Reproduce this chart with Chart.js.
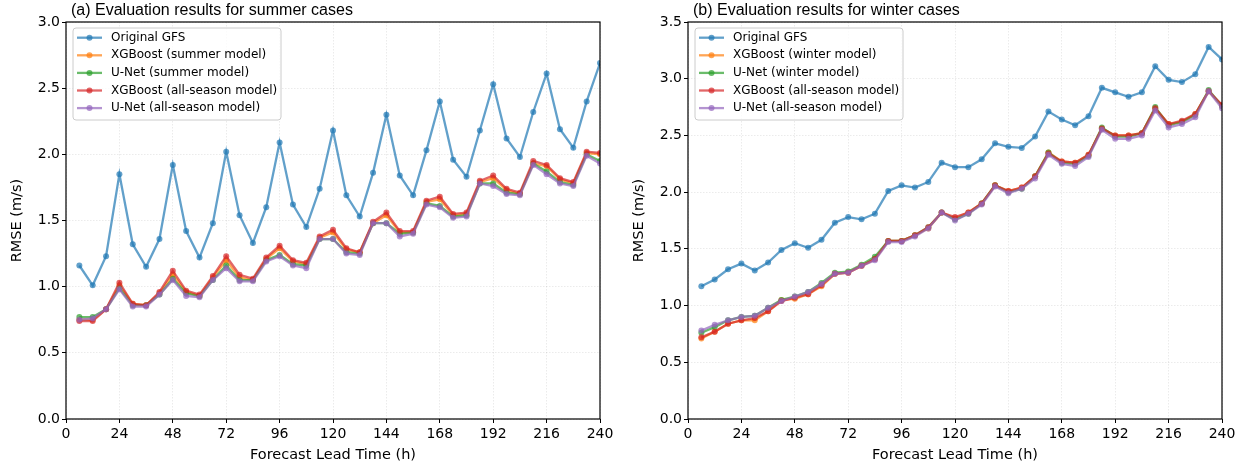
<!DOCTYPE html>
<html>
<head>
<meta charset="utf-8">
<script src="https://cdn.jsdelivr.net/npm/chart.js@4.4.0/dist/chart.umd.min.js"></script>
<style>
body { margin: 0; background: #fff; width: 1244px; height: 467px; overflow: hidden; position: relative; }
canvas { position: absolute; top: 0; }
#summer { left: 0; }
#winter { left: 622px; }
</style>
</head>
<body>
<canvas id="summer" width="622" height="467"></canvas>
<canvas id="winter" width="622" height="467"></canvas>
<script>
const leadHours = [6, 12, 18, 24, 30, 36, 42, 48, 54, 60, 66, 72, 78, 84, 90, 96, 102, 108, 114, 120,
  126, 132, 138, 144, 150, 156, 162, 168, 174, 180, 186, 192, 198, 204, 210, 216, 222, 228, 234, 240];
const xTicks = [0, 24, 48, 72, 96, 120, 144, 168, 192, 216, 240];

// summer cases
const summerGFS = [1.16, 1.01, 1.23, 1.85, 1.32, 1.15, 1.36, 1.92, 1.42, 1.22, 1.48, 2.02, 1.54, 1.33, 1.60, 2.09, 1.62, 1.45, 1.74, 2.18,
  1.69, 1.53, 1.86, 2.30, 1.84, 1.69, 2.03, 2.40, 1.96, 1.83, 2.18, 2.53, 2.12, 1.98, 2.32, 2.61, 2.19, 2.05, 2.40, 2.69];
const summerXgb = [0.75, 0.75, 0.83, 1.01, 0.87, 0.86, 0.95, 1.09, 0.96, 0.93, 1.07, 1.20, 1.07, 1.05, 1.21, 1.29, 1.19, 1.17, 1.37, 1.41,
  1.28, 1.26, 1.48, 1.54, 1.41, 1.41, 1.64, 1.66, 1.54, 1.55, 1.79, 1.82, 1.73, 1.70, 1.93, 1.91, 1.81, 1.78, 2.01, 2.00];
const summerUnet = [0.77, 0.77, 0.83, 0.99, 0.86, 0.86, 0.94, 1.06, 0.95, 0.93, 1.05, 1.16, 1.05, 1.05, 1.20, 1.24, 1.17, 1.16, 1.36, 1.36,
  1.26, 1.25, 1.48, 1.48, 1.40, 1.41, 1.63, 1.61, 1.53, 1.54, 1.78, 1.78, 1.71, 1.70, 1.93, 1.87, 1.79, 1.77, 2.00, 1.95];
const summerXgbAll = [0.74, 0.74, 0.83, 1.03, 0.87, 0.86, 0.96, 1.12, 0.97, 0.94, 1.08, 1.23, 1.09, 1.06, 1.22, 1.31, 1.20, 1.18, 1.38, 1.43,
  1.29, 1.26, 1.49, 1.56, 1.42, 1.42, 1.65, 1.68, 1.55, 1.56, 1.80, 1.84, 1.74, 1.71, 1.95, 1.92, 1.82, 1.79, 2.02, 2.01];
const summerUnetAll = [0.75, 0.76, 0.83, 0.98, 0.85, 0.85, 0.94, 1.05, 0.93, 0.92, 1.05, 1.14, 1.04, 1.04, 1.19, 1.23, 1.16, 1.14, 1.36, 1.36,
  1.25, 1.24, 1.48, 1.48, 1.38, 1.40, 1.62, 1.60, 1.52, 1.53, 1.78, 1.76, 1.70, 1.69, 1.92, 1.85, 1.78, 1.76, 1.99, 1.93];

// winter cases
const winterGFS = [1.17, 1.23, 1.32, 1.37, 1.31, 1.38, 1.49, 1.55, 1.51, 1.58, 1.73, 1.78, 1.76, 1.81, 2.01, 2.06, 2.04, 2.09, 2.26, 2.22,
  2.22, 2.29, 2.43, 2.40, 2.39, 2.49, 2.71, 2.64, 2.59, 2.67, 2.92, 2.88, 2.84, 2.88, 3.11, 2.99, 2.97, 3.04, 3.28, 3.17];
const winterXgb = [0.71, 0.77, 0.84, 0.87, 0.87, 0.95, 1.05, 1.06, 1.10, 1.17, 1.28, 1.29, 1.35, 1.41, 1.57, 1.57, 1.62, 1.68, 1.82, 1.77,
  1.82, 1.90, 2.06, 2.01, 2.04, 2.14, 2.35, 2.27, 2.26, 2.33, 2.56, 2.50, 2.50, 2.52, 2.74, 2.60, 2.62, 2.69, 2.89, 2.76];
const winterUnet = [0.76, 0.81, 0.87, 0.90, 0.91, 0.98, 1.05, 1.08, 1.12, 1.20, 1.29, 1.30, 1.36, 1.43, 1.57, 1.57, 1.62, 1.69, 1.82, 1.76,
  1.81, 1.90, 2.06, 2.00, 2.03, 2.14, 2.35, 2.26, 2.25, 2.32, 2.57, 2.49, 2.49, 2.52, 2.75, 2.59, 2.62, 2.68, 2.90, 2.76];
const winterXgbAll = [0.72, 0.77, 0.84, 0.87, 0.89, 0.95, 1.04, 1.07, 1.10, 1.18, 1.28, 1.29, 1.35, 1.41, 1.57, 1.57, 1.62, 1.69, 1.82, 1.78,
  1.82, 1.90, 2.06, 2.01, 2.04, 2.14, 2.34, 2.27, 2.26, 2.33, 2.56, 2.50, 2.50, 2.52, 2.74, 2.60, 2.63, 2.69, 2.89, 2.77];
const winterUnetAll = [0.78, 0.83, 0.87, 0.90, 0.91, 0.98, 1.04, 1.08, 1.12, 1.19, 1.28, 1.29, 1.35, 1.40, 1.56, 1.56, 1.61, 1.68, 1.82, 1.75,
  1.81, 1.89, 2.05, 1.99, 2.03, 2.12, 2.33, 2.25, 2.23, 2.31, 2.55, 2.47, 2.47, 2.50, 2.72, 2.57, 2.60, 2.66, 2.89, 2.74];

const colors = ["rgba(31,119,180,0.7)", "rgba(255,127,14,0.7)", "rgba(44,160,44,0.7)", "rgba(214,39,40,0.7)", "rgba(148,103,189,0.7)"];

// frame, panel title and the legend box inside the plot
const panelDecor = {
  id: "panelDecor",
  afterDraw(chart, args, opts) {
    const ctx = chart.ctx;
    const a = chart.chartArea;
    ctx.save();
    ctx.strokeStyle = "#000";
    ctx.lineWidth = 1.2;
    ctx.strokeRect(a.left, a.top, a.right - a.left, a.bottom - a.top);

    ctx.fillStyle = "#000";
    ctx.font = '16px "Liberation Sans", Arial, sans-serif';
    ctx.textBaseline = "middle";
    ctx.fillText(opts.title, a.left + 5, 11);

    const bx = a.left + 7, by = a.top + 6, bw = 208, bh = 92;
    ctx.beginPath();
    ctx.roundRect(bx, by, bw, bh, 3);
    ctx.fillStyle = "rgba(255,255,255,0.8)";
    ctx.fill();
    ctx.strokeStyle = "#cccccc";
    ctx.lineWidth = 1;
    ctx.stroke();

    ctx.font = '12px "DejaVu Sans", sans-serif';
    chart.data.datasets.forEach((ds, i) => {
      const y = by + 9.7 + i * 17.6;
      ctx.strokeStyle = ds.borderColor;
      ctx.lineWidth = 2.3;
      ctx.beginPath();
      ctx.moveTo(bx + 4, y);
      ctx.lineTo(bx + 29, y);
      ctx.stroke();
      ctx.fillStyle = ds.backgroundColor;
      ctx.beginPath();
      ctx.arc(bx + 16.5, y, 3, 0, Math.PI * 2);
      ctx.fill();
      ctx.fillStyle = "#000";
      ctx.fillText(ds.label, bx + 38, y);
    });
    ctx.restore();
  }
};

function makeChart(id, title, labels, series, yMax) {
  const datasets = series.map((vals, i) => ({
    label: labels[i],
    data: vals.map((v, j) => ({ x: leadHours[j], y: v })),
    borderColor: colors[i],
    backgroundColor: colors[i],
    borderWidth: 2.3,
    pointRadius: 3,
    pointBorderWidth: 0,
    tension: 0,
    order: series.length - i
  }));

  return new Chart(document.getElementById(id), {
    type: "line",
    data: { datasets: datasets },
    plugins: [panelDecor],
    options: {
      responsive: false,
      animation: false,
      layout: { padding: { top: 22, right: 22, left: 0, bottom: 0 } },
      plugins: {
        legend: { display: false },
        tooltip: { enabled: false },
        panelDecor: { title: title }
      },
      scales: {
        x: {
          type: "linear",
          min: 0,
          max: 240,
          afterBuildTicks: scale => { scale.ticks = xTicks.map(v => ({ value: v })); },
          afterFit: scale => { scale.height = 48; },
          grid: { color: "rgba(0,0,0,0.08)", tickColor: "#000", tickLength: 4, tickWidth: 1 },
          border: { display: false, dash: [1.5, 1.5] },
          ticks: { color: "#000", padding: 3, maxRotation: 0, font: { family: "DejaVu Sans", size: 14 } },
          title: {
            display: true,
            text: "Forecast Lead Time (h)",
            color: "#000",
            padding: { top: 0, bottom: 3 },
            font: { family: "DejaVu Sans", size: 14.5 }
          }
        },
        y: {
          min: 0,
          max: yMax,
          afterFit: scale => { scale.width = 66; },
          grid: { color: "rgba(0,0,0,0.08)", tickColor: "#000", tickLength: 4, tickWidth: 1 },
          border: { display: false, dash: [1.5, 1.5] },
          ticks: {
            stepSize: 0.5,
            color: "#000",
            padding: 2,
            font: { family: "DejaVu Sans", size: 14 },
            callback: v => v.toFixed(1)
          },
          title: {
            display: true,
            text: "RMSE (m/s)",
            color: "#000",
            padding: { top: 9, bottom: 0 },
            font: { family: "DejaVu Sans", size: 14.5 }
          }
        }
      }
    }
  });
}

makeChart("summer", "(a) Evaluation results for summer cases",
  ["Original GFS", "XGBoost (summer model)", "U-Net (summer model)", "XGBoost (all-season model)", "U-Net (all-season model)"],
  [summerGFS, summerXgb, summerUnet, summerXgbAll, summerUnetAll], 3.0);

makeChart("winter", "(b) Evaluation results for winter cases",
  ["Original GFS", "XGBoost (winter model)", "U-Net (winter model)", "XGBoost (all-season model)", "U-Net (all-season model)"],
  [winterGFS, winterXgb, winterUnet, winterXgbAll, winterUnetAll], 3.5);
</script>
</body>
</html>
